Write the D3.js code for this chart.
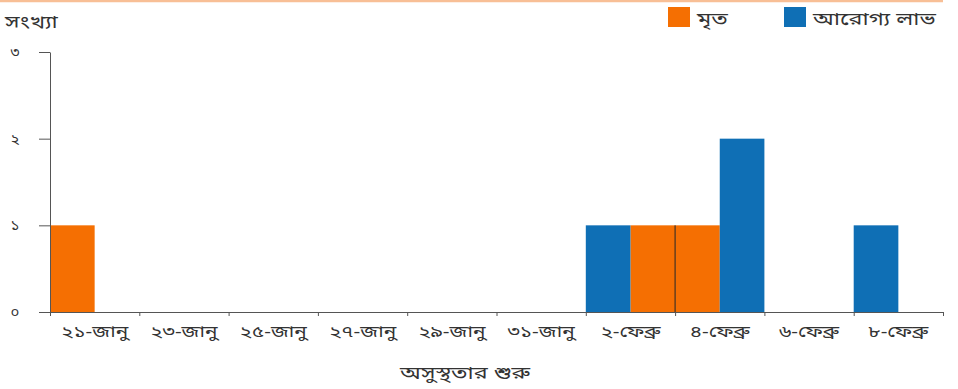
<!DOCTYPE html>
<html>
<head>
<meta charset="utf-8">
<script src="https://cdn.jsdelivr.net/npm/d3@7"></script>
<style>
  html, body { margin: 0; padding: 0; background: #fff; }
  svg text { font-family: "Noto Sans Bengali", "Lohit Bengali", "Noto Sans", "DejaVu Sans", sans-serif; fill: #333; }
</style>
</head>
<body>
<svg id="chart" width="958" height="389"></svg>
<script>
// Day-by-day counts by date of illness onset (21 Jan – 9 Feb)
const startDate = new Date(2020, 0, 21);
const dayCount = 20;
const deathDays = ["2020-01-21", "2020-02-03", "2020-02-04"];
const deathValues = [1, 1, 1];
const recoveredDays = ["2020-02-02", "2020-02-05", "2020-02-08"];
const recoveredValues = [1, 2, 1];
const tickLabels = ["২১-জানু", "২৩-জানু", "২৫-জানু", "২৭-জানু", "২৯-জানু", "৩১-জানু",
                    "২-ফেব্রু", "৪-ফেব্রু", "৬-ফেব্রু", "৮-ফেব্রু"];
const yTickLabels = ["০", "১", "২", "৩"];
const seriesNames = ["মৃত", "আরোগ্য লাভ"];
const colors = ["#f56f02", "#0f6fb5"];

const svg = d3.select("#chart");
const W = 958, H = 389;
const margin = { left: 50, right: 15, top: 52, bottom: 77 };
const widen = 1.3; // the Bengali face is drawn a little wider than it is tall

// Text helper: places a horizontally widened label at (px, py)
function label(parent, px, py, str, size, anchor) {
  return parent.append("text")
    .attr("transform", `translate(${px},${py}) scale(${widen},1)`)
    .attr("text-anchor", anchor || "start")
    .attr("font-size", size)
    .text(str);
}

const parse = d3.timeParse("%Y-%m-%d");
const dayMs = 24 * 3600 * 1000;
const endDate = new Date(startDate.getTime() + dayCount * dayMs);

const x = d3.scaleTime().domain([startDate, endDate]).range([margin.left, W - margin.right]);
const y = d3.scaleLinear().domain([0, 3]).range([H - margin.bottom, margin.top]);

// Decorative top rule
svg.append("line")
  .attr("x1", 0).attr("x2", W - margin.right).attr("y1", 1).attr("y2", 1)
  .attr("stroke", "#f8bf96").attr("stroke-width", 2.5);

// Bars
const series = [
  { name: seriesNames[0], color: colors[0], data: deathDays.map((d, i) => ({ date: parse(d), v: deathValues[i] })) },
  { name: seriesNames[1], color: colors[1], data: recoveredDays.map((d, i) => ({ date: parse(d), v: recoveredValues[i] })) }
];

series.forEach(s => {
  svg.append("g").selectAll("rect").data(s.data).join("rect")
    .attr("x", d => x(d.date))
    .attr("width", d => x(new Date(d.date.getTime() + dayMs)) - x(d.date))
    .attr("y", d => y(d.v))
    .attr("height", d => y(0) - y(d.v))
    .attr("fill", s.color);
});

// Thin divider where two death bars sit side by side
const deaths = series[0].data;
deaths.forEach((d, i) => {
  const prev = deaths[i - 1];
  if (prev && d.date.getTime() - prev.date.getTime() === dayMs) {
    svg.append("line")
      .attr("x1", x(d.date)).attr("x2", x(d.date))
      .attr("y1", y(Math.min(d.v, prev.v))).attr("y2", y(0))
      .attr("stroke", "#222").attr("stroke-width", 1);
  }
});

// X axis: a tick every two days, labels centred between ticks
const tickDates = d3.range(0, dayCount + 1, 2).map(i => new Date(startDate.getTime() + i * dayMs));
const xAxis = svg.append("g")
  .attr("transform", `translate(0,${y(0)})`)
  .call(d3.axisBottom(x).tickValues(tickDates).tickSize(4).tickSizeOuter(0).tickFormat(""));
xAxis.select(".domain").attr("stroke", "#555");
xAxis.selectAll(".tick line").attr("stroke", "#555");

const xLabels = svg.append("g");
tickLabels.forEach((t, i) => {
  label(xLabels, (x(tickDates[i]) + x(tickDates[i + 1])) / 2, y(0) + 25, t, 16, "middle");
});

// Y axis
const yAxis = svg.append("g")
  .attr("transform", `translate(${margin.left},0)`)
  .call(d3.axisLeft(y).tickValues([0, 1, 2, 3]).tickSize(11).tickSizeOuter(0)
    .tickFormat(d => yTickLabels[d]));
yAxis.select(".domain").attr("stroke", "#555");
yAxis.selectAll(".tick line").attr("stroke", "#555");
yAxis.selectAll(".tick text")
  .attr("x", -35).attr("text-anchor", "middle")
  .attr("font-size", 15).attr("fill", "#333");

// Axis titles
label(svg, 5, 28, "সংখ্যা", 18, "start");
label(svg, 465, 379, "অসুস্থতার শুরু", 18, "middle");

// Legend
const legendX = [668, 784];
series.forEach((s, i) => {
  const g = svg.append("g").attr("transform", `translate(${legendX[i]},7)`);
  g.append("rect").attr("width", 22).attr("height", 20).attr("fill", s.color);
  label(g, 29, 18, s.name, 18, "start");
});
</script>
</body>
</html>
